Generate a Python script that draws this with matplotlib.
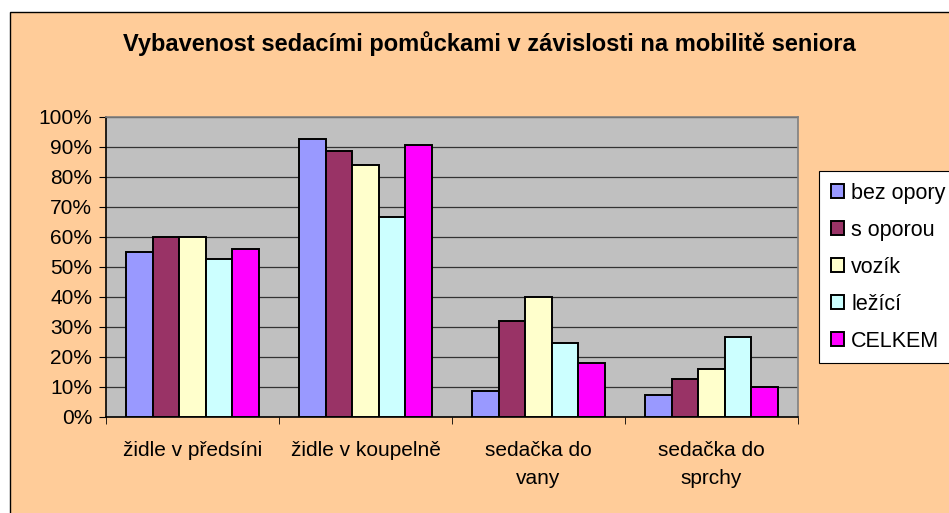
import numpy as np
import matplotlib
matplotlib.use("Agg")
import matplotlib.pyplot as plt
from matplotlib.patches import Rectangle
from matplotlib.ticker import FixedLocator, PercentFormatter

plt.rcParams['font.family'] = ['Liberation Sans', 'DejaVu Sans']

# data (percent)
categories = ["židle v předsíni", "židle v koupelně", "sedačka do\nvany", "sedačka do\nsprchy"]
series_names = ["bez opory", "s oporou", "vozík", "ležící", "CELKEM"]
bez_opory = [55, 92.7, 8.8, 7.3]
s_oporou = [60, 88.7, 32, 12.8]
vozik = [60, 84, 40, 16]
lezici = [52.7, 66.7, 24.8, 26.8]
celkem = [56, 90.7, 18, 10]
colors = ["#9999FF", "#993366", "#FFFFCC", "#CCFFFF", "#FF00FF"]

all_series = [bez_opory, s_oporou, vozik, lezici, celkem]

fig = plt.figure(figsize=(9.49, 5.13), dpi=100)
fig.patch.set_facecolor("white")

# chart area background
bg = Rectangle((10 / 949, -0.01), 1.0, 1 - 12 / 513 + 0.01,
               transform=fig.transFigure, facecolor="#FFCC99",
               edgecolor="black", linewidth=1, zorder=-5)
fig.add_artist(bg)

ax = fig.add_axes([106 / 949, 96 / 513, 692 / 949, 300 / 513])
ax.set_facecolor("#C0C0C0")

x = np.arange(len(categories))
w = 1 / 6.5
for i, (name, vals, col) in enumerate(zip(series_names, all_series, colors)):
    ax.bar(x + (i - 2) * w, vals, width=w, color=col, edgecolor="black",
           linewidth=1.4, label=name, zorder=3)

ax.set_xlim(-0.5, 3.5)
ax.set_ylim(0, 100)
ax.set_yticks(np.arange(0, 101, 10))
ax.yaxis.set_major_formatter(PercentFormatter(decimals=0))
ax.grid(axis="y", color="#333333", linewidth=0.9, zorder=1)
ax.set_axisbelow(True)

ax.set_xticks(x)
ax.set_xticklabels(categories, fontsize=15, linespacing=1.6)
ax.xaxis.set_minor_locator(FixedLocator(np.arange(-0.5, 3.6, 1)))
ax.tick_params(axis="x", which="major", length=0, pad=17)
ax.tick_params(axis="x", which="minor", length=5, direction="out", color="black")
ax.tick_params(axis="y", length=5, direction="out", pad=5, labelsize=15)

ax.spines["left"].set_color("black")
ax.spines["bottom"].set_color("black")
ax.spines["top"].set_color("#808080")
ax.spines["right"].set_color("#808080")
for s in ax.spines.values():
    s.set_linewidth(1.2)

fig.text(489 / 949, 1 - 44 / 513, "Vybavenost sedacími pomůckami v závislosti na mobilitě seniora",
         ha="center", va="center", fontsize=17, fontweight="bold")

leg = fig.legend(loc="upper left", bbox_to_anchor=(819 / 949, 1 - 171 / 513),
                 fontsize=15.5, frameon=True, fancybox=False, framealpha=1,
                 edgecolor="black", handlelength=0.6, handleheight=0.6,
                 handletextpad=0.35, labelspacing=0.74, borderpad=0.55,
                 borderaxespad=0)
leg.get_frame().set_linewidth(0.8)

fig.savefig("out.png", dpi=100)
